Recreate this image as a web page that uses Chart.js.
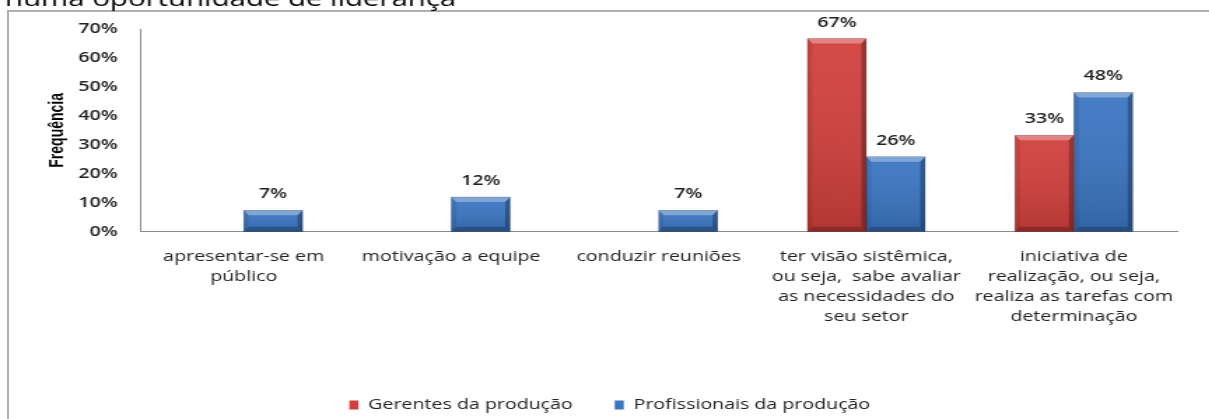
<!DOCTYPE html>
<html lang="pt">
<head>
<meta charset="utf-8">
<title>Competências de liderança</title>
<script src="https://cdn.jsdelivr.net/npm/chart.js@4.4.1/dist/chart.umd.min.js"></script>
<style>
	html, body { margin: 0; padding: 0; background: #fff; overflow: hidden; }
	body { width: 1209px; height: 419px; position: relative; }
	.frame {
		position: absolute; left: 7px; top: 10px;
		width: 1400px; height: 600px;
		border-left: 2px solid #b0b0b0; border-top: 2px solid #b0b0b0;
	}
	#chart { position: absolute; left: 0; top: 0; }
</style>
</head>
<body>
<div class="frame"></div>
<!-- the source picture is stretched sideways, so the canvas is drawn narrow and widened by css -->
<canvas id="chart" width="871" height="422" style="width:1219.4px;height:422px"></canvas>
<script>
const heading = "numa oportunidade de liderança";
const categories = [
	["apresentar-se em", "público"],
	"motivação a equipe",
	"conduzir reuniões",
	["ter visão sistêmica,", "ou seja,  sabe avaliar", "as necessidades do", "seu setor"],
	["iniciativa de", "realização, ou seja,", "realiza as tarefas com", "determinação"]
];
const seriesNames = ["Gerentes da produção", "Profissionais da produção"];
const gerentes = [0, 0, 0, 66.7, 33.3];
const profissionais = [7.4, 12, 7.4, 25.9, 48.1];
const yTicks = [0, 10, 20, 30, 40, 50, 60, 70];
const seriesColors = ["#d13f3c", "#3a75c2"];

Chart.defaults.font.family = '"Open Sans", sans-serif';

// heading line, mostly cut off at the top of the picture
const headingPlugin = {
	id: "heading",
	beforeDraw(chart) {
		const ctx = chart.ctx;
		ctx.save();
		ctx.font = '21px "Open Sans"';
		ctx.fillStyle = "#000";
		ctx.textAlign = "left";
		ctx.textBaseline = "alphabetic";
		ctx.fillText(heading, 3.6, 6);
		ctx.restore();
	}
};

// excel-like bevel on the bars + the value labels
const bevelPlugin = {
	id: "bevel",
	afterDatasetsDraw(chart) {
		const ctx = chart.ctx;
		chart.data.datasets.forEach((ds, di) => {
			const meta = chart.getDatasetMeta(di);
			meta.data.forEach((bar, i) => {
				const {x, y, base, width} = bar.getProps(["x", "y", "base", "width"], true);
				const L = x - width / 2, R = x + width / 2, T = y, B = base;
				if (B - T < 1) return;
				const bh = Math.min(5, (B - T) / 2), bw = 3.5;

				ctx.save();
				let g = ctx.createLinearGradient(0, T, 0, B);
				g.addColorStop(0, "rgba(255,255,255,0.06)");
				g.addColorStop(1, "rgba(0,0,0,0.14)");
				ctx.fillStyle = g;
				ctx.fillRect(L, T, width, B - T);

				const poly = (pts, color) => {
					ctx.beginPath();
					ctx.moveTo(pts[0][0], pts[0][1]);
					pts.slice(1).forEach(p => ctx.lineTo(p[0], p[1]));
					ctx.closePath();
					ctx.fillStyle = color;
					ctx.fill();
				};
				poly([[L, T], [R, T], [R - bw, T + bh], [L + bw, T + bh]], "rgba(255,255,255,0.32)");
				poly([[R, T], [R, B], [R - bw, B - bh], [R - bw, T + bh]], "rgba(0,0,0,0.28)");
				poly([[L, T], [L + bw, T + bh], [L + bw, B - bh], [L, B]], "rgba(0,0,0,0.08)");
				poly([[L, B], [L + bw, B - bh], [R - bw, B - bh], [R, B]], "rgba(0,0,0,0.22)");

				ctx.strokeStyle = "rgba(0,0,0,0.25)";
				ctx.lineWidth = 0.6;
				ctx.strokeRect(L, T, width, B - T);

				ctx.font = '600 14px "Open Sans"';
				ctx.fillStyle = "#222";
				ctx.textAlign = "center";
				ctx.textBaseline = "middle";
				ctx.fillText(Math.round(ds.data[i]) + "%", x, T - 16);
				ctx.restore();
			});
		});
	}
};

const ctx = document.getElementById("chart").getContext("2d");

const config = {
	type: "bar",
	data: {
		labels: categories,
		datasets: [
			{ label: seriesNames[0], data: gerentes, backgroundColor: seriesColors[0], borderWidth: 0 },
			{ label: seriesNames[1], data: profissionais, backgroundColor: seriesColors[1], borderWidth: 0 }
		]
	},
	options: {
		responsive: false,
		devicePixelRatio: 1,
		animation: false,
		categoryPercentage: 0.567,
		barPercentage: 1,
		layout: {
			padding: { top: 29, right: 29.6, bottom: 0, left: 30 }
		},
		plugins: {
			tooltip: { enabled: false },
			legend: {
				position: "bottom",
				labels: {
					boxWidth: 6.5,
					boxHeight: 9,
					padding: 30,
					color: "#222",
					font: { size: 14 }
				}
			}
		},
		scales: {
			x: {
				grid: { display: false, drawTicks: false },
				border: { color: "#8c8c8c" },
				ticks: {
					color: "#222",
					padding: 15,
					autoSkip: false,
					maxRotation: 0,
					minRotation: 0,
					font: { size: 14, lineHeight: 1.43 }
				},
				afterFit(scale) {
					scale.height = 136.3;
				}
			},
			y: {
				min: 0,
				max: 70,
				grid: { display: false, drawTicks: false },
				border: { color: "#8c8c8c" },
				afterBuildTicks(scale) {
					scale.ticks = yTicks.map(v => ({ value: v }));
				},
				ticks: {
					color: "#222",
					padding: 16,
					font: { size: 14, weight: "600" },
					callback: function(value) {
						return value + "%";
					}
				},
				title: {
					display: true,
					text: "Frequência",
					color: "#000",
					padding: { top: 2.3, bottom: 0 },
					font: { family: '"Liberation Sans", Arial, sans-serif', size: 14, weight: "bold" }
				},
				afterFit(scale) {
					scale.width = 70;
				}
			}
		}
	},
	plugins: [headingPlugin, bevelPlugin]
};

new Chart(ctx, config);
</script>
</body>
</html>
